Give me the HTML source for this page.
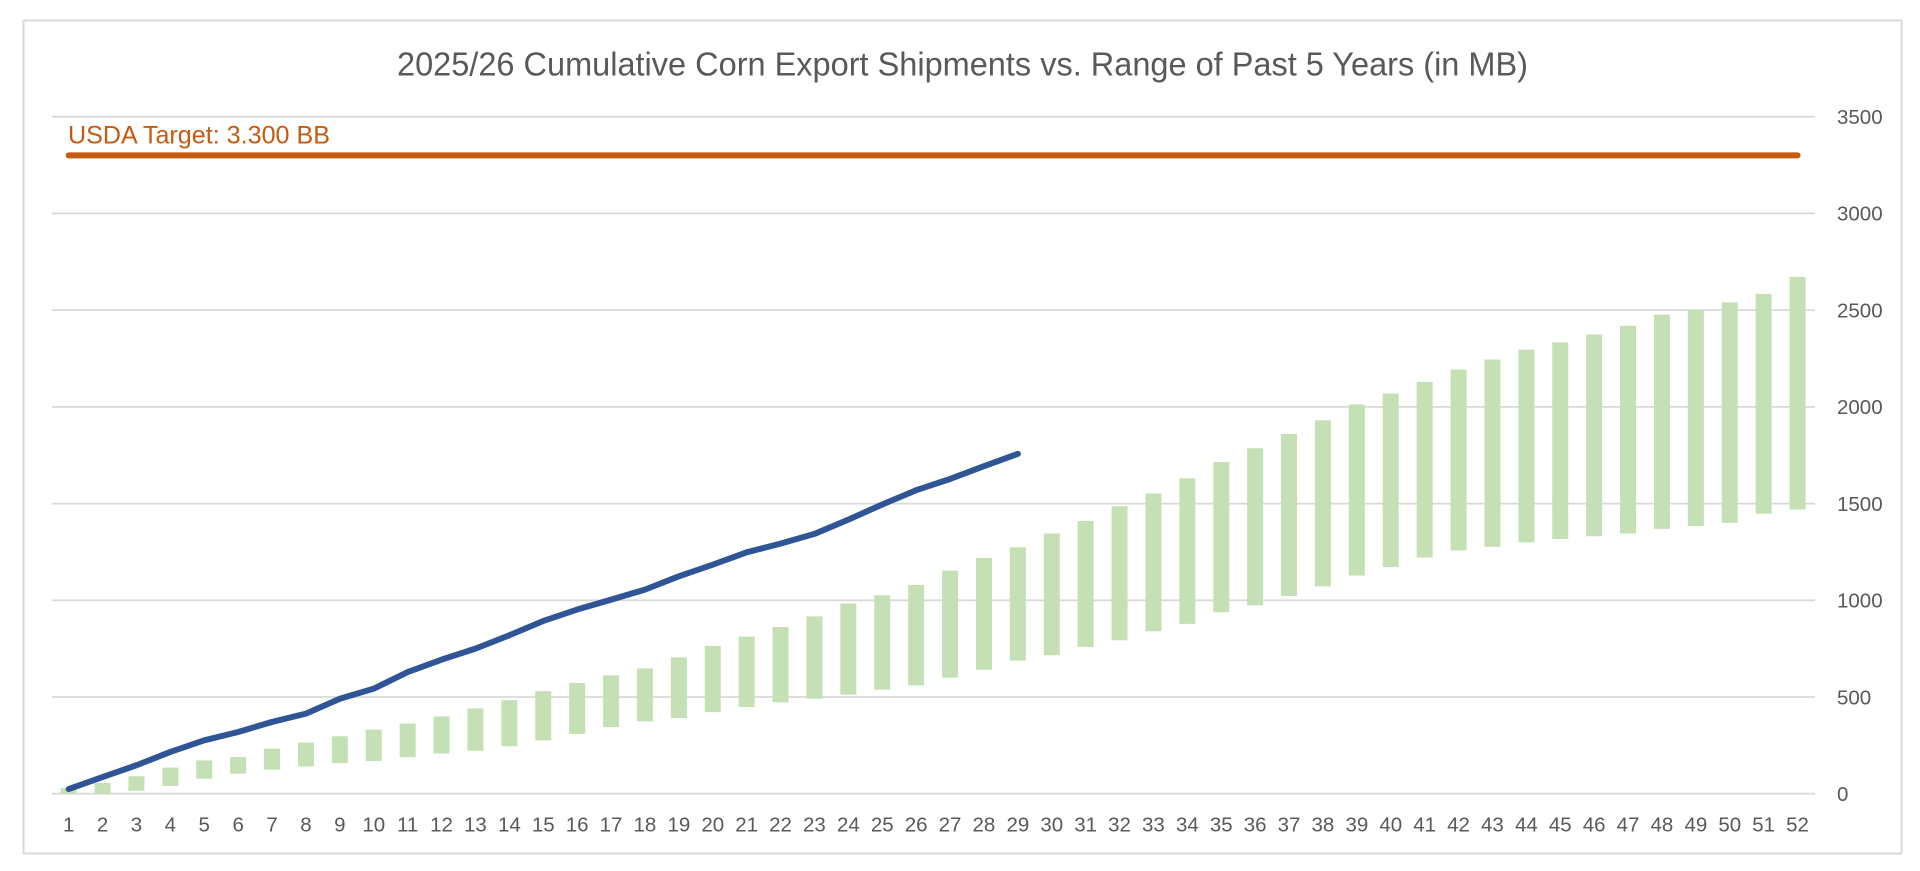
<!DOCTYPE html>
<html>
<head>
<meta charset="utf-8">
<style>
html,body{margin:0;padding:0;background:#fff}
body{width:1920px;height:871px;overflow:hidden}
svg{display:block}
text{font-family:"Liberation Sans",Arial,sans-serif}
</style>
</head>
<body>
<svg width="1920" height="871" viewBox="0 0 1920 871" xmlns="http://www.w3.org/2000/svg">
<rect width="1920" height="871" fill="#fff"/>
<rect x="23.5" y="20.5" width="1878" height="833" fill="none" stroke="#D9D9D9" stroke-width="2"/>
<text x="397" y="75.5" font-size="33" fill="#595959" textLength="1131" lengthAdjust="spacingAndGlyphs">2025/26 Cumulative Corn Export Shipments vs. Range of Past 5 Years (in MB)</text>
<path d="M51.7 793.7H1815M51.7 697H1815M51.7 600.3H1815M51.7 503.6H1815M51.7 406.9H1815M51.7 310.1H1815M51.7 213.4H1815M51.7 116.7H1815" stroke="#D9D9D9" stroke-width="1.8" fill="none"/>
<text font-size="20.5" fill="#595959"><tspan x="1837" y="801">0</tspan><tspan x="1837" y="704.3">500</tspan><tspan x="1837" y="607.6">1000</tspan><tspan x="1837" y="510.9">1500</tspan><tspan x="1837" y="414.2">2000</tspan><tspan x="1837" y="317.4">2500</tspan><tspan x="1837" y="220.7">3000</tspan><tspan x="1837" y="124">3500</tspan></text>
<g transform="translate(34.75,793.7) scale(33.9,-0.193429)">
<path fill="#C5E0B4" d="M0.764 0h.472V29h-.472z M1.764 0h.472V55h-.472z M2.764 15h.472V90h-.472z M3.764 40h.472V135h-.472z M4.764 77h.472V172h-.472z M5.764 103h.472V190h-.472z M6.764 124h.472V233h-.472z M7.764 141h.472V264h-.472z M8.764 158h.472V297h-.472z M9.764 169h.472V331h-.472z M10.764 189h.472V362h-.472z M11.764 208h.472V399h-.472z M12.764 222h.472V441h-.472z M13.764 245h.472V483h-.472z M14.764 276h.472V530h-.472z M15.764 309h.472V572h-.472z M16.764 345h.472V612h-.472z M17.764 374h.472V647h-.472z M18.764 391h.472V705h-.472z M19.764 422h.472V764h-.472z M20.764 448h.472V812h-.472z M21.764 472h.472V862h-.472z M22.764 491h.472V917h-.472z M23.764 512h.472V983h-.472z M24.764 538h.472V1026h-.472z M25.764 560h.472V1079h-.472z M26.764 600h.472V1153h-.472z M27.764 641h.472V1219h-.472z M28.764 688h.472V1274h-.472z M29.764 716h.472V1345h-.472z M30.764 759h.472V1410h-.472z M31.764 793h.472V1486h-.472z M32.764 840h.472V1552h-.472z M33.764 878h.472V1631h-.472z M34.764 938h.472V1715h-.472z M35.764 974h.472V1786h-.472z M36.764 1022h.472V1860h-.472z M37.764 1072h.472V1931h-.472z M38.764 1128h.472V2012h-.472z M39.764 1172h.472V2069h-.472z M40.764 1221h.472V2129h-.472z M41.764 1257h.472V2193h-.472z M42.764 1276h.472V2245h-.472z M43.764 1300h.472V2295h-.472z M44.764 1317h.472V2334h-.472z M45.764 1331h.472V2374h-.472z M46.764 1345h.472V2419h-.472z M47.764 1369h.472V2476h-.472z M48.764 1384h.472V2503h-.472z M49.764 1400h.472V2540h-.472z M50.764 1447h.472V2584h-.472z M51.764 1469h.472V2672h-.472z"/>
<line x1="1" y1="3300" x2="52" y2="3300" stroke="#C55A11" stroke-width="6" stroke-linecap="round" vector-effect="non-scaling-stroke"/>
<polyline fill="none" stroke="#2F5597" stroke-width="6" stroke-linecap="round" stroke-linejoin="round" vector-effect="non-scaling-stroke" points="1,24 2,86 3,147 4,216 5,276 6,319 7,371 8,414 9,491 10,543 11,629 12,693 13,750 14,819 15,893 16,952 17,1003 18,1055 19,1124 20,1184 21,1248 22,1293 23,1343 24,1417 25,1495 26,1569 27,1627 28,1693 29,1757"/>
</g>
<text x="68" y="143.3" font-size="25" fill="#C55A11" textLength="262" lengthAdjust="spacingAndGlyphs">USDA Target: 3.300 BB</text>
<text font-size="20.5" fill="#595959" text-anchor="middle" y="831.5"><tspan x="68.65">1</tspan><tspan x="102.55">2</tspan><tspan x="136.45">3</tspan><tspan x="170.35">4</tspan><tspan x="204.25">5</tspan><tspan x="238.15">6</tspan><tspan x="272.05">7</tspan><tspan x="305.95">8</tspan><tspan x="339.85">9</tspan><tspan x="373.75">10</tspan><tspan x="407.65">11</tspan><tspan x="441.55">12</tspan><tspan x="475.45">13</tspan><tspan x="509.35">14</tspan><tspan x="543.25">15</tspan><tspan x="577.15">16</tspan><tspan x="611.05">17</tspan><tspan x="644.95">18</tspan><tspan x="678.85">19</tspan><tspan x="712.75">20</tspan><tspan x="746.65">21</tspan><tspan x="780.55">22</tspan><tspan x="814.45">23</tspan><tspan x="848.35">24</tspan><tspan x="882.25">25</tspan><tspan x="916.15">26</tspan><tspan x="950.05">27</tspan><tspan x="983.95">28</tspan><tspan x="1017.85">29</tspan><tspan x="1051.75">30</tspan><tspan x="1085.65">31</tspan><tspan x="1119.55">32</tspan><tspan x="1153.45">33</tspan><tspan x="1187.35">34</tspan><tspan x="1221.25">35</tspan><tspan x="1255.15">36</tspan><tspan x="1289.05">37</tspan><tspan x="1322.95">38</tspan><tspan x="1356.85">39</tspan><tspan x="1390.75">40</tspan><tspan x="1424.65">41</tspan><tspan x="1458.55">42</tspan><tspan x="1492.45">43</tspan><tspan x="1526.35">44</tspan><tspan x="1560.25">45</tspan><tspan x="1594.15">46</tspan><tspan x="1628.05">47</tspan><tspan x="1661.95">48</tspan><tspan x="1695.85">49</tspan><tspan x="1729.75">50</tspan><tspan x="1763.65">51</tspan><tspan x="1797.55">52</tspan></text>
</svg>
</body>
</html>
